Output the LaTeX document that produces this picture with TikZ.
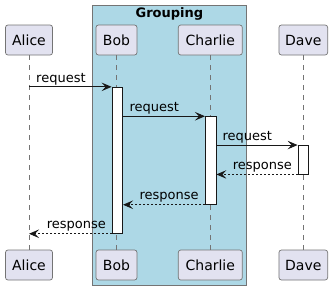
\documentclass[tikz,border=0pt]{standalone}
\usepackage{fontspec}
\setmainfont{DejaVu Sans}
\usetikzlibrary{arrows.meta}
\definecolor{partfill}{HTML}{E2E2F0}
\definecolor{grpfill}{HTML}{ADD8E6}
\definecolor{bord}{HTML}{181818}
\tikzset{
  part/.style={rectangle, rounded corners=2.5pt, fill=partfill, draw=bord!60, line width=0.7pt,
    minimum height=30pt, inner sep=0pt, font=\fontsize{14}{16}\selectfont},
  life/.style={draw=bord!60, line width=0.6pt, dash pattern=on 5pt off 5pt},
  actbox/.style={rectangle, fill=white, draw=bord, line width=0.9pt, inner sep=0pt, minimum width=10.5pt},
  msg/.style={draw=bord, line width=0.9pt, -{Stealth[length=10pt,width=8.5pt,inset=4pt]}},
  resp/.style={msg, dash pattern=on 2pt off 2pt},
  lbl/.style={anchor=base west, inner sep=0pt, font=\fontsize{13}{15}\selectfont},
}
\begin{document}
\begin{tikzpicture}[x=1pt,y=-1pt]
\useasboundingbox (0,0) rectangle (333,290);
% group box
\node[draw=bord!60, line width=0.7pt, fill=grpfill, rectangle, inner sep=0pt,
  minimum width=154.4pt, minimum height=280pt] (grp) at (169.5,145) {};
\node[anchor=base, inner sep=0pt, font=\fontsize{13}{15}\selectfont\bfseries] (grpl) at (169.4,17.5) {Grouping};
% participants
\node[part, minimum width=47pt] (A) at (29,40) {Alice};
\node[part, minimum width=41pt] (B) at (116.5,40) {Bob};
\node[part, minimum width=64pt] (C) at (210.3,40) {Charlie};
\node[part, minimum width=48.7pt] (D) at (303.3,40) {Dave};
\node[part, minimum width=47pt] (A2) at (29,265) {Alice};
\node[part, minimum width=41pt] (B2) at (116.5,265) {Bob};
\node[part, minimum width=64pt] (C2) at (210.3,265) {Charlie};
\node[part, minimum width=48.7pt] (D2) at (303.3,265) {Dave};
% lifelines
\draw[life] (A.south) -- (A2.north);
\draw[life] (B.south) -- (B2.north);
\draw[life] (C.south) -- (C2.north);
\draw[life] (D.south) -- (D2.north);
% activations
\node[actbox, minimum height=146pt] (actB) at (117.3,160.3) {};
\node[actbox, minimum height=87.6pt] (actC) at (210.7,160.5) {};
\node[actbox, minimum height=28.5pt] (actD) at (303.3,159.75) {};
% messages
\draw[msg] (A.south |- actB.north) -- (actB.north west);
\draw[msg] (actB.east |- actC.north) -- (actC.north west);
\draw[msg] (actC.east |- actD.north) -- (actD.north west);
\draw[resp] (actD.south west) -- (actC.east |- actD.south);
\draw[resp] (actC.south west) -- (actB.east |- actC.south);
\draw[resp] (actB.south west) -- (A.south |- actB.south);
% labels
\node[lbl] (l1) at (36,82.5) {request};
\node[lbl] (l2) at (129.3,111.5) {request};
\node[lbl] (l3) at (222.3,140.5) {request};
\node[lbl] (l4) at (232.7,169.5) {response};
\node[lbl] (l5) at (139.3,199) {response};
\node[lbl] (l6) at (46.7,228) {response};
\end{tikzpicture}
\end{document}
